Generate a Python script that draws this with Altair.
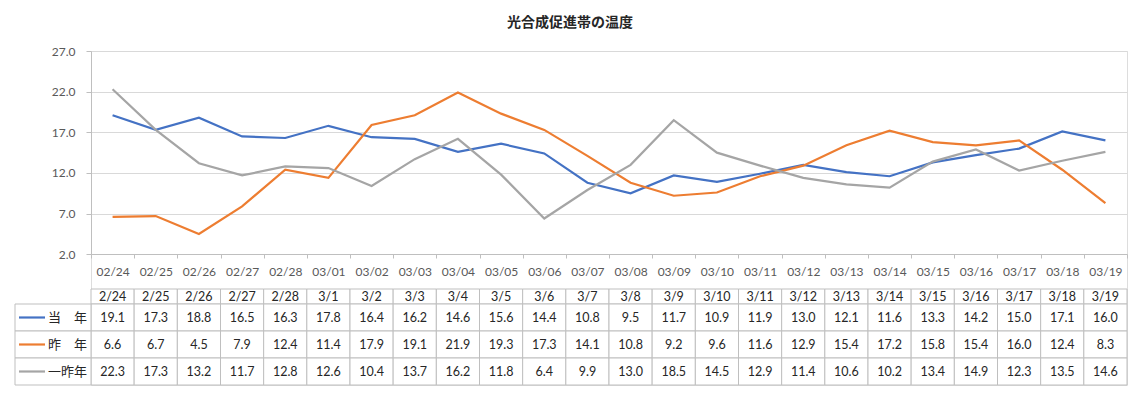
import altair as alt
import pandas as pd

# ---- data ----
dates = ["02/24", "02/25", "02/26", "02/27", "02/28", "03/01", "03/02", "03/03",
         "03/04", "03/05", "03/06", "03/07", "03/08", "03/09", "03/10", "03/11",
         "03/12", "03/13", "03/14", "03/15", "03/16", "03/17", "03/18", "03/19"]
headers = ["2/24", "2/25", "2/26", "2/27", "2/28", "3/1", "3/2", "3/3",
           "3/4", "3/5", "3/6", "3/7", "3/8", "3/9", "3/10", "3/11",
           "3/12", "3/13", "3/14", "3/15", "3/16", "3/17", "3/18", "3/19"]
series_names = ["当\u3000年", "昨\u3000年", "一昨年"]
this_year = [19.1, 17.3, 18.8, 16.5, 16.3, 17.8, 16.4, 16.2, 14.6, 15.6, 14.4, 10.8,
             9.5, 11.7, 10.9, 11.9, 13.0, 12.1, 11.6, 13.3, 14.2, 15.0, 17.1, 16.0]
last_year = [6.6, 6.7, 4.5, 7.9, 12.4, 11.4, 17.9, 19.1, 21.9, 19.3, 17.3, 14.1,
             10.8, 9.2, 9.6, 11.6, 12.9, 15.4, 17.2, 15.8, 15.4, 16.0, 12.4, 8.3]
two_years_ago = [22.3, 17.3, 13.2, 11.7, 12.8, 12.6, 10.4, 13.7, 16.2, 11.8, 6.4, 9.9,
                 13.0, 18.5, 14.5, 12.9, 11.4, 10.6, 10.2, 13.4, 14.9, 12.3, 13.5, 14.6]
y_ticks = [2, 7, 12, 17, 22, 27]
title_text = "光合成促進帯の温度"
colors = ["#4472C4", "#ED7D31", "#A5A5A5"]

FONT = "Lato, 'Noto Sans CJK JP', sans-serif"
GRID = "#d9d9d9"
BORDER = "#bfbfbf"
TEXT = "#262626"

rows = []
for name, vals in zip(series_names, [this_year, last_year, two_years_ago]):
    for d, h, v in zip(dates, headers, vals):
        rows.append({"date": d, "header": h, "series": name, "value": v})
df = pd.DataFrame(rows)
df_head = pd.DataFrame({"date": dates, "header": headers, "row": ["h"] * len(dates)})
df_lab = pd.DataFrame({"series": series_names})

xs = alt.Scale(type="band", domain=dates, paddingInner=0, paddingOuter=0)
color_scale = alt.Scale(domain=series_names, range=colors)
head_scale = alt.Scale(type="band", domain=["h"], range=[238, 253], paddingInner=0, paddingOuter=0)
row_scale = alt.Scale(type="band", domain=series_names, range=[253, 334], paddingInner=0, paddingOuter=0)

line = alt.Chart(df).mark_line(strokeWidth=2.2).encode(
    x=alt.X("date:O", scale=xs, bandPosition=0.5, sort=dates,
            axis=alt.Axis(title=None, offset=-131, tickBand="extent", tickSize=4,
                          labelPadding=8, labelAngle=0, labelColor="#595959",
                          labelFontSize=12, labelFont=FONT, domainColor=BORDER,
                          tickColor=BORDER)),
    y=alt.Y("value:Q",
            scale=alt.Scale(domain=[2, 27], range=[203.3, 0], nice=False, zero=False),
            axis=alt.Axis(title=None, values=y_ticks, format=".1f", tickSize=5,
                          labelPadding=11, labelColor="#595959", labelFontSize=12,
                          labelFont=FONT, gridColor=GRID, domainColor=BORDER,
                          tickColor=BORDER)),
    color=alt.Color("series:N", scale=color_scale, legend=None),
)

head_cells = alt.Chart(df_head).mark_rect(fill="white", stroke=BORDER, strokeWidth=1).encode(
    x=alt.X("date:O", scale=xs, sort=dates),
    y=alt.Y("row:N", scale=head_scale, axis=None),
)
head_text = alt.Chart(df_head).mark_text(fontSize=12.5, font=FONT, color=TEXT, baseline="middle").encode(
    x=alt.X("date:O", scale=xs, bandPosition=0.5, sort=dates),
    y=alt.Y("row:N", scale=head_scale, bandPosition=0.5, axis=None),
    text="header:N",
)

cells = alt.Chart(df).mark_rect(fill="white", stroke=BORDER, strokeWidth=1).encode(
    x=alt.X("date:O", scale=xs, sort=dates),
    y=alt.Y("series:N", scale=row_scale, axis=None),
)
cell_text = alt.Chart(df).mark_text(fontSize=12.5, font=FONT, color=TEXT, baseline="middle").encode(
    x=alt.X("date:O", scale=xs, bandPosition=0.5, sort=dates),
    y=alt.Y("series:N", scale=row_scale, bandPosition=0.5, axis=None),
    text=alt.Text("value:Q", format=".1f"),
)

lab_cells = alt.Chart(df_lab).mark_rect(fill="white", stroke=BORDER, strokeWidth=1).encode(
    x=alt.value(-76), x2=alt.value(0),
    y=alt.Y("series:N", scale=row_scale, axis=None),
)
lab_text = alt.Chart(df_lab).mark_text(fontSize=13, font=FONT, color=TEXT, align="right",
                                       baseline="middle").encode(
    x=alt.value(-4),
    y=alt.Y("series:N", scale=row_scale, bandPosition=0.5, axis=None),
    text="series:N",
)
lab_sym = alt.Chart(df_lab).mark_rule(strokeWidth=2.2).encode(
    x=alt.value(-72), x2=alt.value(-46),
    y=alt.Y("series:N", scale=row_scale, bandPosition=0.5, axis=None),
    color=alt.Color("series:N", scale=color_scale, legend=None),
)

table_head = alt.layer(head_cells, head_text)
table_body = alt.layer(cells, cell_text, lab_cells, lab_text, lab_sym)

chart = alt.layer(line, table_head, table_body).resolve_scale(
    y="independent"
).properties(
    width=1036,
    height=334,
    autosize="none",
    padding={"left": 83, "top": 43, "right": 6, "bottom": 7},
    title=alt.TitleParams(title_text, fontSize=14, fontWeight="bold", font=FONT,
                          color="#262626", anchor="middle", dx=-39, offset=15),
).configure_view(stroke=None).configure(background="white")

chart.save("out.html", embed_options={"renderer": "svg", "actions": False})
